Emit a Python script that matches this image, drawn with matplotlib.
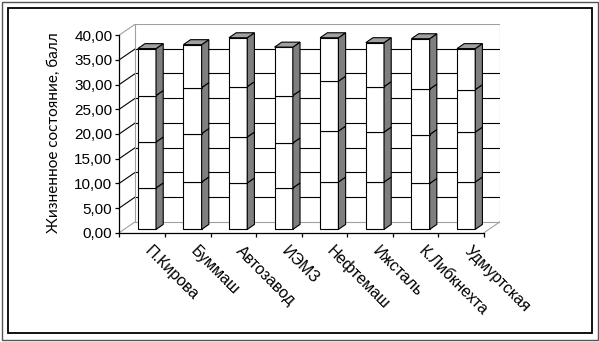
import matplotlib
matplotlib.use("Agg")
import matplotlib.pyplot as plt
from matplotlib.patches import Polygon, Rectangle

# ---- data ----
categories = ['П.Кирова', 'Буммаш', 'Автозавод', 'ИЭМЗ', 'Нефтемаш',
              'Ижсталь', 'К.Либкнехта', 'Удмуртская']
seg1 = [8.4, 9.6, 9.4, 8.4, 9.6, 9.6, 9.3, 9.6]
seg2 = [9.3, 9.8, 9.3, 9.1, 10.3, 10.1, 9.9, 10.1]
seg3 = [9.4, 9.3, 10.2, 9.6, 10.1, 9.2, 9.2, 8.6]
seg4 = [9.5, 8.7, 9.9, 9.8, 8.8, 8.9, 10.2, 8.3]
series = [seg1, seg2, seg3, seg4]
yticks = [0, 5, 10, 15, 20, 25, 30, 35, 40]
ylabel = 'Жизненное состояние, балл'

# ---- pseudo-3D geometry (depth offset in data units) ----
DX = 0.351   # full depth, category units
DY = 2.23    # full depth, value units
D0, D1 = 0.30, 0.75   # bar depth span
BW = 0.40
YMAX = 40
N = len(categories)

W, H = 599, 342
fig = plt.figure(figsize=(W / 100, H / 100), dpi=100)
ax = fig.add_axes([119.3 / W, 109.3 / H, (N + DX) * 45.6 / W, (YMAX + DY) * 4.94 / H])
ax.set_xlim(0, N + DX)
ax.set_ylim(0, YMAX + DY)
ax.patch.set_alpha(0)

wall = '#a0a0a0'
lw = 0.8
# back wall gridlines & left wall diagonals
for v in yticks:
    col = wall if v in (0, YMAX) else 'black'
    ax.plot([DX, N + DX], [v + DY, v + DY], color=col, lw=lw, zorder=1)
    ax.plot([0, DX], [v, v + DY], color=col, lw=lw, zorder=1)
ax.plot([DX, DX], [DY, YMAX + DY], color=wall, lw=lw, zorder=1)
ax.plot([N + DX, N + DX], [DY, YMAX + DY], color=wall, lw=lw, zorder=1)
ax.plot([N, N + DX], [0, DY], color=wall, lw=lw, zorder=1)

side_c = '#7f7f7f'
top_c = '#a0a0a0'
for i in range(N):
    xl = i + 0.5 - BW / 2 + D0 * DX
    xr = xl + BW
    ox = (D1 - D0) * DX
    oy = (D1 - D0) * DY
    bottom = D0 * DY
    for s in series:
        h = s[i]
        ax.bar(xl, h, bottom=bottom, width=BW, align='edge', color='white',
               edgecolor='black', lw=lw, zorder=3)
        ax.add_patch(Polygon([(xr, bottom), (xr + ox, bottom + oy),
                              (xr + ox, bottom + h + oy), (xr, bottom + h)],
                             closed=True, facecolor=side_c, edgecolor='black',
                             lw=lw, zorder=3))
        bottom += h
    ax.add_patch(Polygon([(xl, bottom), (xr, bottom), (xr + ox, bottom + oy),
                          (xl + ox, bottom + oy)], closed=True, facecolor=top_c,
                         edgecolor='black', lw=lw, zorder=3))

# axes
for sp in ['top', 'right']:
    ax.spines[sp].set_visible(False)
ax.spines['left'].set_bounds(0, YMAX)
ax.spines['bottom'].set_bounds(0, N)
for sp in ['left', 'bottom']:
    ax.spines[sp].set_linewidth(0.9)
    ax.spines[sp].set_zorder(4)
ax.set_yticks(yticks)
ax.set_yticklabels([f'{v:.2f}'.replace('.', ',') for v in yticks],
                   fontsize=11, fontfamily='Liberation Sans')
ax.set_xticks(range(N + 1))
ax.set_xticklabels([])
ax.tick_params(axis='both', direction='out', length=3, width=0.9, pad=2)

for i, c in enumerate(categories):
    ax.annotate(c, xy=(i + 0.5, 0), xycoords='data', xytext=(7.5, -7.5),
                textcoords='offset points', rotation=-45, ha='left', va='top',
                rotation_mode='anchor', fontsize=11.5, fontfamily='Liberation Sans')

fig.text(54 / W, 1 - 132.5 / H, ylabel, rotation=90, ha='center', va='center',
         fontsize=11, fontfamily='Lato')

# frames
fig.patches.append(Rectangle((8 / W, 9 / H), 584 / W, 325 / H, transform=fig.transFigure,
                             fill=False, edgecolor='black', lw=1.3))
fig.patches.append(Rectangle((1.5 / W, 2.5 / H), 596 / W, 338 / H, transform=fig.transFigure,
                             fill=False, edgecolor='#555555', lw=1.0))

fig.savefig('out.png', dpi=100)
